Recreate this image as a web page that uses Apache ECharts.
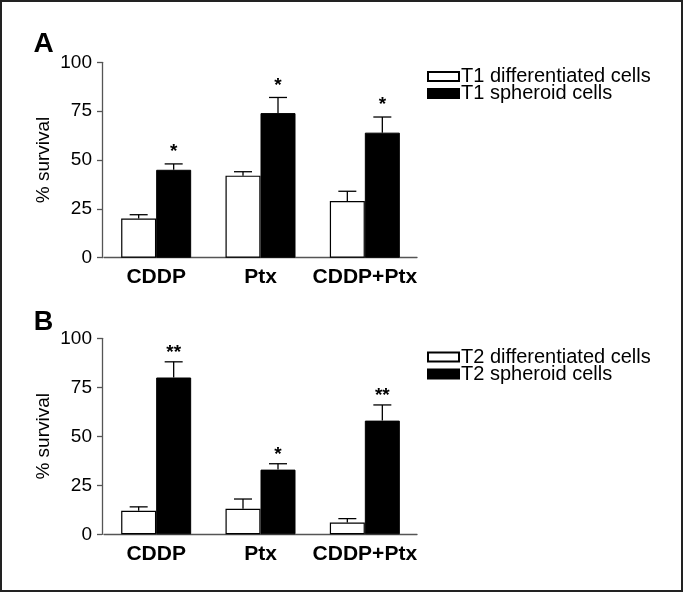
<!DOCTYPE html>
<html>
<head>
<meta charset="utf-8">
<script src="https://cdn.jsdelivr.net/npm/echarts@6/dist/echarts.min.js"></script>
<style>html,body{margin:0;padding:0;background:#fff}#c{width:685px;height:594px}</style>
</head>
<body>
<div id="c"></div>
<script>
const categories = ['CDDP', 'Ptx', 'CDDP+Ptx'];
const yTicks = [0, 25, 50, 75, 100];

const t1DiffMean = [20, 42, 29];
const t1DiffErr = [2, 2, 5];
const t1SphMean = [45, 74, 64];
const t1SphErr = [3, 8, 8];
const t1Stars = ['*', '*', '*'];

const t2DiffMean = [12, 13, 6];
const t2DiffErr = [2, 5, 2];
const t2SphMean = [80, 33, 58];
const t2SphErr = [8, 3, 8];
const t2Stars = ['**', '*', '**'];

const FONT = 'Liberation Sans, Arial, Helvetica, sans-serif';
const BAR_W = 35;
const CAP_W = 18;

function errSeries(name, xi, mean, err, stars, shift, starGap) {
  return {
    type: 'custom',
    name: name + ' err',
    xAxisIndex: xi, yAxisIndex: xi,
    silent: true, z: 5,
    data: mean.map((m, i) => [i, m, err[i]]),
    renderItem: function (params, api) {
      const i = api.value(0);
      const base = api.coord([i, api.value(1)]);
      const top = api.coord([i, api.value(1) + api.value(2)]);
      const x = base[0] + shift;
      const children = [
        { type: 'line', shape: { x1: x, y1: base[1], x2: x, y2: top[1] }, style: { stroke: '#000', lineWidth: 1.3 } },
        { type: 'line', shape: { x1: x - CAP_W / 2, y1: top[1], x2: x + CAP_W / 2, y2: top[1] }, style: { stroke: '#000', lineWidth: 1.3 } }
      ];
      const s = stars ? stars[i] : '';
      if (s) {
        children.push({ type: 'text', x: x, y: top[1] - starGap, style: { text: s, font: 'bold 19px ' + FONT, fill: '#000', align: 'center', verticalAlign: 'middle' } });
      }
      return { type: 'group', children: children };
    }
  };
}

function barSeries(name, xi, data, white) {
  return {
    type: 'bar', name: name, xAxisIndex: xi, yAxisIndex: xi,
    data: data, barWidth: BAR_W, barGap: '0%',
    itemStyle: white ? { color: '#fff', borderColor: '#000', borderWidth: 1.2 } : { color: '#000', borderColor: '#000', borderWidth: 1 },
    emphasis: { disabled: true }, z: 3
  };
}

function xAxis(gi) {
  return {
    type: 'category', gridIndex: gi, data: categories,
    axisLine: { lineStyle: { color: '#555', width: 1.3 } },
    axisTick: { show: false },
    axisLabel: { color: '#000', fontFamily: FONT, fontWeight: 'bold', fontSize: 21, margin: 9, interval: 0, hideOverlap: false }
  };
}
function yAxis(gi) {
  return {
    type: 'value', gridIndex: gi, min: yTicks[0], max: yTicks[yTicks.length - 1], interval: 25,
    offset: 2,
    name: '% survival', nameLocation: 'middle', nameRotate: 90, nameGap: 49,
    nameTextStyle: { color: '#000', fontFamily: FONT, fontSize: 19 },
    axisLine: { show: true, lineStyle: { color: '#555', width: 1.3 } },
    axisTick: { show: true, length: 5, lineStyle: { color: '#555', width: 1.3 } },
    axisLabel: { color: '#000', fontFamily: FONT, fontSize: 19, margin: 10 },
    splitLine: { show: false }
  };
}
function legend(top, names) {
  return {
    orient: 'vertical', left: 427, top: top, data: names,
    icon: 'rect', itemWidth: 31, itemHeight: 9, itemGap: -3,
    selectedMode: false,
    textStyle: { color: '#000', fontFamily: FONT, fontSize: 20, padding: [0, 0, 0, -3] },
    padding: 0
  };
}

const chart = echarts.init(document.getElementById('c'), null, { renderer: 'canvas' });
chart.setOption({
  backgroundColor: '#fff',
  animation: false,
  grid: [
    { left: 104, top: 62.3, width: 313, height: 195.4 },
    { left: 104, top: 338.3, width: 313, height: 196 }
  ],
  xAxis: [xAxis(0), xAxis(1)],
  yAxis: [yAxis(0), yAxis(1)],
  legend: [
    legend(66.5, ['T1 differentiated cells', 'T1 spheroid cells']),
    legend(347, ['T2 differentiated cells', 'T2 spheroid cells'])
  ],
  graphic: [
    { type: 'rect', shape: { x: 1, y: 1, width: 681, height: 590 }, style: { fill: 'none', stroke: '#222', lineWidth: 2 }, silent: true },
    { type: 'text', x: 43.5, y: 44, style: { text: 'A', font: 'bold 28px ' + FONT, fill: '#000', align: 'center', verticalAlign: 'middle' } },
    { type: 'text', x: 43.5, y: 322.5, style: { text: 'B', font: 'bold 27px ' + FONT, fill: '#000', align: 'center', verticalAlign: 'middle' } }
  ],
  series: [
    barSeries('T1 differentiated cells', 0, t1DiffMean, true),
    barSeries('T1 spheroid cells', 0, t1SphMean, false),
    errSeries('T1 differentiated cells', 0, t1DiffMean, t1DiffErr, null, -BAR_W / 2, 0),
    errSeries('T1 spheroid cells', 0, t1SphMean, t1SphErr, t1Stars, BAR_W / 2, 12),
    barSeries('T2 differentiated cells', 1, t2DiffMean, true),
    barSeries('T2 spheroid cells', 1, t2SphMean, false),
    errSeries('T2 differentiated cells', 1, t2DiffMean, t2DiffErr, null, -BAR_W / 2, 0),
    errSeries('T2 spheroid cells', 1, t2SphMean, t2SphErr, t2Stars, BAR_W / 2, 9)
  ]
});
</script>
</body>
</html>
